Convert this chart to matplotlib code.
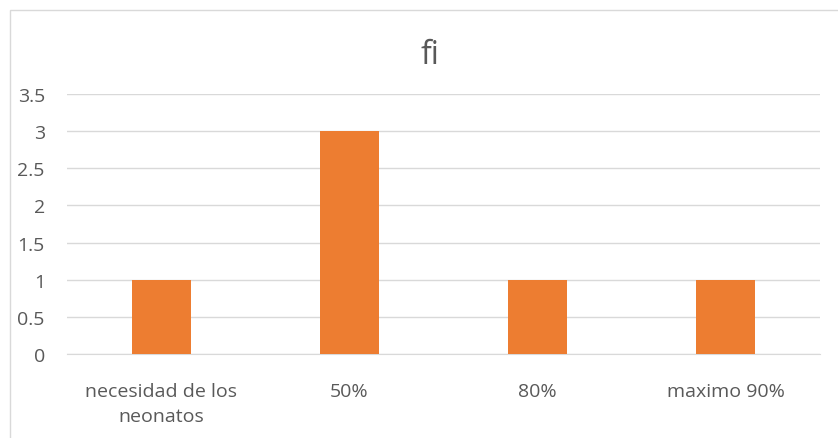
import matplotlib
matplotlib.use("Agg")
import matplotlib.pyplot as plt
from matplotlib.patches import Rectangle

categories = ["necesidad de los\nneonatos", "50%", "80%", "maximo 90%"]
values = [1, 3, 1, 1]
yticks = [0, 0.5, 1, 1.5, 2, 2.5, 3, 3.5]
ytick_labels = ["0", "0.5", "1", "1.5", "2", "2.5", "3", "3.5"]

plt.rcParams['font.family'] = ['Open Sans', 'DejaVu Sans']
text_color = '#595959'

fig = plt.figure(figsize=(8.38, 4.39), dpi=100)
ax = fig.add_axes([0.080, 0.1913, 0.8985, 0.5923])

x = list(range(len(categories)))
ax.bar(x, values, width=0.313, color='#ED7D31', zorder=3)

ax.set_xlim(-0.5, len(categories) - 0.5)
ax.set_ylim(0, 3.5)
ax.set_yticks(yticks)
ax.set_yticklabels(ytick_labels)
ax.set_xticks(x)
ax.set_xticklabels(categories, linespacing=1.5)

ax.grid(axis='y', color='#D9D9D9', linewidth=1, zorder=0)
for s in ['top', 'right', 'left']:
    ax.spines[s].set_visible(False)
ax.spines['bottom'].set_color('#D9D9D9')
ax.tick_params(axis='both', length=0, colors=text_color, labelsize=14)
ax.tick_params(axis='y', pad=16)
ax.tick_params(axis='x', pad=20.5)

fig.text(430 / 838, 1 - 55 / 439, "fi", ha='center', va='center',
         fontsize=23, color=text_color)

# chart area border (only top/left visible in the original crop)
fig.patches.append(Rectangle((10 / 838, -0.05), 1.0, 1 - 11 / 439 + 0.05,
                             transform=fig.transFigure, fill=False,
                             edgecolor='#D9D9D9', linewidth=1))

fig.savefig("out.png", dpi=100)
